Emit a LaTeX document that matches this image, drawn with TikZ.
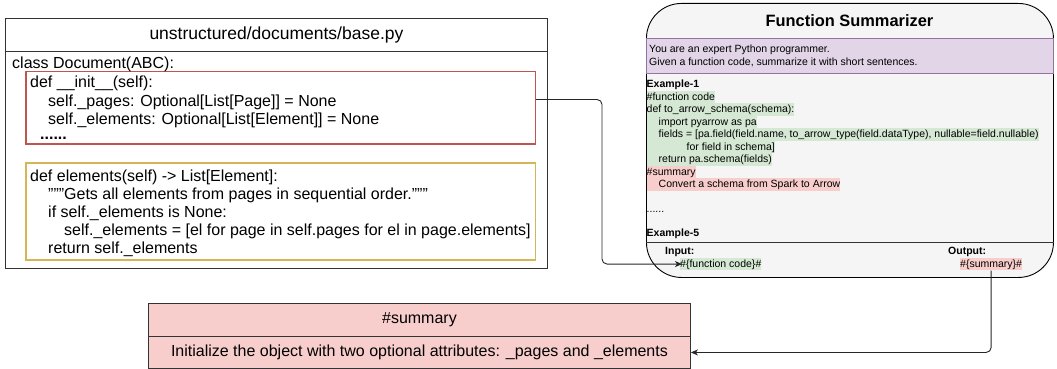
\documentclass[tikz,border=0pt]{standalone}
\usepackage{fontspec}
\setmainfont{Liberation Sans}
\usetikzlibrary{arrows.meta,calc}
\definecolor{redS}{rgb}{0.76,0.33,0.31}
\definecolor{yelS}{rgb}{0.84,0.71,0.34}
\definecolor{purF}{HTML}{E1D5E7}
\definecolor{purS}{HTML}{9673A6}
\definecolor{grnF}{HTML}{D5E8D4}
\definecolor{redF}{HTML}{F8CECC}
\definecolor{greyF}{HTML}{F5F5F5}
\definecolor{edge}{HTML}{333333}
\begin{document}
\begin{tikzpicture}[x=1pt,y=-1pt,
  code/.style={anchor=base west,inner sep=0pt,font=\fontsize{16}{18}\selectfont},
  rl/.style={anchor=base west,inner sep=0pt,font=\fontsize{10.5}{12.5}\selectfont,text height=9.2pt,text depth=3.3pt},
  gl/.style={rl,fill=grnF},
  pl/.style={rl,fill=redF},
  box/.style={anchor=north west,inner sep=0pt,line width=0.9pt},
  conn/.style={draw=black!85,line width=0.9pt,rounded corners=5pt,-{Stealth[length=7pt,width=6pt,inset=2pt]}}]
\useasboundingbox (0,0) rectangle (1057,369);

% ---- left: source file ----
\node[box,draw=edge,minimum width=542pt,minimum height=32.7pt,font=\fontsize{17.5}{20}\selectfont] (ftitle) at (5,18) {unstructured/documents/base.py};
\node[box,draw=edge,minimum width=542pt,minimum height=217.3pt] (fbody) at (5,50.7) {};
\node[box,draw=redS,line width=1.5pt,minimum width=509.5pt,minimum height=72.3pt] (redbox) at (25,70.7) {};
\node[box,draw=yelS,line width=1.5pt,minimum width=509.5pt,minimum height=97pt] (yelbox) at (25,162) {};

\node[code] (l0) at (12,68) {class Document(ABC):};
\node[code] (r1) at (30,88) {def \_\_init\_\_(self):};
\node[code] (r2) at (48,106) {self.\_pages: Optional[List[Page]] = None};
\node[code] (r3) at (48,124) {self.\_elements: Optional[List[Element]] = None};
\node[code,font=\bfseries\fontsize{16}{18}\selectfont] (r4) at (40,139) {......};

\node[code] (y1) at (30,181) {def elements(self) -> List[Element]:};
\node[code] (y2) at (48,199) {"""Gets all elements from pages in sequential order."""};
\node[code] (y3) at (48,217) {if self.\_elements is None:};
\node[code] (y4) at (64,235) {self.\_elements = [el for page in self.pages for el in page.elements]};
\node[code] (y5) at (48,253) {return self.\_elements};

% ---- right: function summarizer ----
\node[box,draw=black,fill=greyF,rounded corners=35pt,minimum width=407pt,minimum height=274pt] (fs) at (646,3) {};
\node[box,fill=purF,draw=purS,minimum width=407pt,minimum height=35pt] (sys) at (646,38) {};
\draw[edge,line width=0.9pt] (fs.west |- 0,242) -- (fs.east |- 0,242);
\node[font=\bfseries\fontsize{16.4}{18}\selectfont] (fstitle) at (849.5,21) {Function Summarizer};

\node[rl] (s1) at (649,52.8) {You are an expert Python programmer.};
\node[rl] (s2) at (649,65.3) {Given a function code, summarize it with short sentences.};

\node[rl] (e0) at (646.5,87.5) {\bfseries Example-1};
\node[gl] (e1) at (646.5,100) {\#function code};
\node[gl] (e2) at (646.5,112.5) {def to\_arrow\_schema(schema):};
\node[gl] (e3) at (646.5,125) {\hspace{12pt}import pyarrow as pa};
\node[gl] (e4) at (646.5,137.5) {\hspace{12pt}fields = [pa.field(field.name, to\_arrow\_type(field.dataType), nullable=field.nullable)};
\node[gl] (e5) at (646.5,150) {\hspace{40pt}for field in schema]};
\node[gl] (e6) at (646.5,162.5) {\hspace{12pt}return pa.schema(fields)};
\node[pl] (e7) at (646.5,175) {\#summary};
\node[pl] (e8) at (646.5,187.5) {\hspace{12pt}Convert a schema from Spark to Arrow};
\node[rl] (e9) at (646.5,212) {......};
\node[rl] (e10) at (646.5,236) {\bfseries Example-5};

\node[rl] (inlbl) at (665,254.5) {\bfseries Input:};
\node[gl] (fcode) at (680,267) {\#\{function code\}\#};
\node[rl] (outlbl) at (948,254.5) {\bfseries Output:};
\node[pl] (summ) at (960,267) {\#\{summary\}\#};

% ---- bottom: summary ----
\node[box,draw=edge,fill=redF,minimum width=542pt,minimum height=33pt,font=\fontsize{16}{18}\selectfont] (shead) at (148,303) {\#summary};
\node[box,draw=edge,fill=redF,minimum width=542pt,minimum height=32pt,font=\fontsize{16}{18}\selectfont] (sbody) at (148,336) {Initialize the object with two optional attributes: \_pages and \_elements};

% ---- connectors ----
\draw[conn] ([yshift=-28.8pt]redbox.north east) -- ++(66,0) |- ([xshift=2pt]fcode.west);
\draw[conn] (summ.south) |- (sbody.east);
\end{tikzpicture}
\end{document}
